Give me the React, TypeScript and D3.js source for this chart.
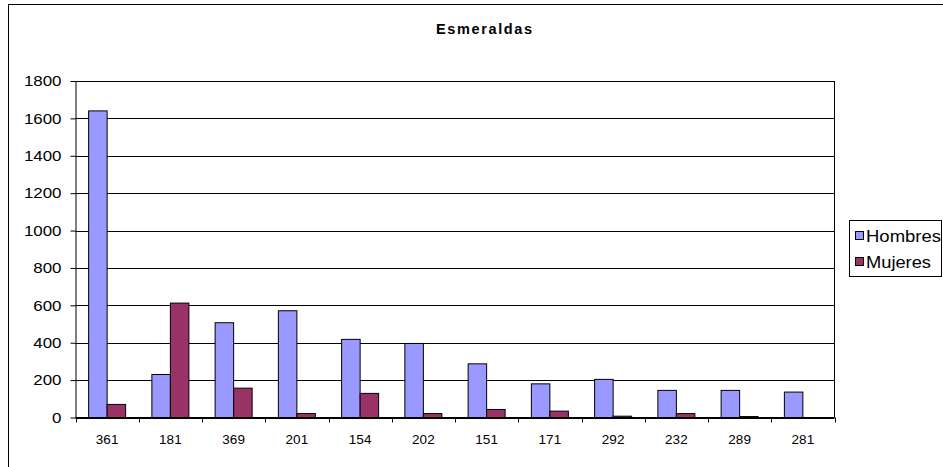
import React, { useEffect, useRef } from "react";
import * as d3 from "d3";

const categories = ["361", "181", "369", "201", "154", "202", "151", "171", "292", "232", "289", "281"];
const hombres = [1640, 230, 507, 571, 418, 396, 287, 180, 204, 145, 145, 136];
const mujeres = [70, 612, 157, 21, 129, 21, 43, 34, 7, 21, 5, 0];
const seriesNames = ["Hombres", "Mujeres"];
const seriesColors = ["#9999FF", "#993366"];
const yTicks = [0, 200, 400, 600, 800, 1000, 1200, 1400, 1600, 1800];

const W = 943;
const H = 467;

const App: React.FC = () => {
  const ref = useRef<SVGSVGElement | null>(null);

  useEffect(() => {
    const svg = d3.select(ref.current);
    svg.selectAll("*").remove();

    const left = 75.5;
    const right = 834.5;
    const top = 81;
    const bottom = 417.5;
    const font = "Arial, 'Liberation Sans', sans-serif";

    // chart frame
    svg
      .append("rect")
      .attr("x", 8.5)
      .attr("y", 4.5)
      .attr("width", W)
      .attr("height", H)
      .attr("fill", "#fff")
      .attr("stroke", "#000")
      .attr("stroke-width", 1);

    svg
      .append("text")
      .attr("x", 484)
      .attr("y", 34)
      .attr("text-anchor", "middle")
      .attr("font-family", font)
      .attr("font-size", 14.5)
      .attr("font-weight", "bold")
      .attr("textLength", 96)
      .attr("lengthAdjust", "spacing")
      .text("Esmeraldas");

    const x0 = d3.scaleBand().domain(categories).range([left, right]).paddingInner(0.415).paddingOuter(0.2075);
    const x1 = d3.scaleBand().domain(seriesNames).range([0, x0.bandwidth()]);
    const y = d3.scaleLinear().domain([0, 1800]).range([bottom, top]);

    const g = svg.append("g");

    // gridlines
    g.selectAll("line.grid")
      .data(yTicks)
      .enter()
      .append("line")
      .attr("x1", left)
      .attr("x2", right)
      .attr("y1", (d) => Math.round(y(d)) + 0.5)
      .attr("y2", (d) => Math.round(y(d)) + 0.5)
      .attr("stroke", "#000");

    // right border
    g.append("line")
      .attr("x1", right)
      .attr("x2", right)
      .attr("y1", top)
      .attr("y2", bottom)
      .attr("stroke", "#000");

    // bars
    const values = [hombres, mujeres];
    categories.forEach((c, i) => {
      seriesNames.forEach((s, j) => {
        const v = values[j][i];
        const yTop = y(v);
        g.append("rect")
          .attr("x", (x0(c) ?? 0) + (x1(s) ?? 0))
          .attr("y", yTop)
          .attr("width", x1.bandwidth())
          .attr("height", y(0) - yTop)
          .attr("fill", seriesColors[j])
          .attr("stroke", "#000")
          .attr("stroke-width", 1);
      });
    });

    // y axis
    const yAxis = d3
      .axisLeft(y)
      .tickValues(yTicks)
      .tickFormat(d3.format("d"))
      .tickSize(5)
      .tickSizeOuter(0);
    const ya = svg.append("g").attr("transform", `translate(${left},0)`).call(yAxis);
    ya.selectAll<SVGTextElement, number>("text")
      .attr("font-family", font)
      .attr("font-size", 15)
      .attr("fill", "#000")
      .attr("x", -14)
      .attr("textLength", (d) => String(d).length * 9.4)
      .attr("lengthAdjust", "spacingAndGlyphs");
    ya.select(".domain").attr("stroke", "#000");
    ya.selectAll(".tick line").attr("stroke", "#000");

    // x axis with ticks at category boundaries
    const step = x0.step();
    const boundaries = d3.range(categories.length + 1).map((i) => left + i * step);
    const xa = svg.append("g");
    xa.append("line")
      .attr("x1", left)
      .attr("x2", right)
      .attr("y1", bottom)
      .attr("y2", bottom)
      .attr("stroke", "#000");
    xa.selectAll("line.tick")
      .data(boundaries)
      .enter()
      .append("line")
      .attr("x1", (d) => Math.round(d) + 0.5)
      .attr("x2", (d) => Math.round(d) + 0.5)
      .attr("y1", bottom)
      .attr("y2", bottom + 5)
      .attr("stroke", "#000");
    xa.selectAll("text")
      .data(categories)
      .enter()
      .append("text")
      .attr("x", (d) => (x0(d) ?? 0) + x0.bandwidth() / 2)
      .attr("y", 444)
      .attr("text-anchor", "middle")
      .attr("font-family", font)
      .attr("font-size", 13.5)
      .text((d) => d);

    // legend
    const lg = svg.append("g");
    lg.append("rect")
      .attr("x", 849.5)
      .attr("y", 220.5)
      .attr("width", 92)
      .attr("height", 56)
      .attr("fill", "#fff")
      .attr("stroke", "#000");
    const legendWidths = [75, 65];
    seriesNames.forEach((s, j) => {
      const cy = 236 + j * 26;
      lg.append("rect")
        .attr("x", 855.5)
        .attr("y", cy - 4.5)
        .attr("width", 8)
        .attr("height", 8)
        .attr("fill", seriesColors[j])
        .attr("stroke", "#000");
      lg.append("text")
        .attr("x", 866)
        .attr("y", cy + 6)
        .attr("font-family", font)
        .attr("font-size", 16)
        .attr("textLength", legendWidths[j])
        .attr("lengthAdjust", "spacingAndGlyphs")
        .text(s);
    });
  }, []);

  return (
    <svg
      ref={ref}
      width={W}
      height={H}
      style={{ position: "absolute", left: 0, top: 0, display: "block", background: "#fff" }}
    />
  );
};

export default App;
